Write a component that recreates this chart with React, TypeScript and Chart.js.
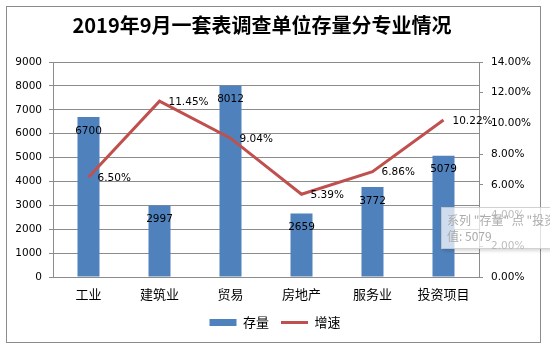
import React, { useEffect, useRef } from "react";
import { Chart, registerables } from "chart.js";

Chart.register(...registerables);

const titleText = "2019年9月一套表调查单位存量分专业情况";
const categories = ["工业", "建筑业", "贸易", "房地产", "服务业", "投资项目"];
const stockValues = [6700, 2997, 8012, 2659, 3772, 5079];
const growthValues = [6.5, 11.45, 9.04, 5.39, 6.86, 10.22];
const seriesNames = ["存量", "增速"];
const tooltipLines = ['系列 "存量" 点 "投资项目"', "值: 5079"];

const NUM_FONT = "'DejaVu Sans', sans-serif";
const CJK_FONT = "'Noto Sans CJK SC', sans-serif";

const overlayPlugin = {
  id: "overlayText",
  afterDraw(chart: any) {
    const ctx = chart.ctx;
    ctx.save();
    ctx.fillStyle = "#000";
    ctx.font = `bold 20px ${CJK_FONT}`;
    ctx.textAlign = "center";
    ctx.textBaseline = "middle";
    ctx.fillText(titleText, 262, 25);
    ctx.font = `10.5px ${NUM_FONT}`;
    const barMeta = chart.getDatasetMeta(0);
    barMeta.data.forEach((el: any, i: number) => {
      ctx.textAlign = "center";
      ctx.fillText(String(stockValues[i]), el.x, el.y + 14);
    });
    const lineMeta = chart.getDatasetMeta(1);
    lineMeta.data.forEach((el: any, i: number) => {
      ctx.textAlign = "left";
      ctx.fillText(growthValues[i].toFixed(2) + "%", el.x + 9, el.y + 1);
    });
    ctx.restore();
  },
};

export default function App() {
  const ref = useRef<HTMLCanvasElement>(null);
  useEffect(() => {
    if (!ref.current) return;
    const chart = new Chart(ref.current, {
      type: "bar",
      data: {
        labels: categories,
        datasets: [
          {
            type: "bar",
            label: seriesNames[0],
            data: stockValues,
            backgroundColor: "#4F81BD",
            borderWidth: 0,
            barPercentage: 0.31,
            categoryPercentage: 1,
            yAxisID: "y",
            pointStyle: "rect",
            order: 2,
          } as any,
          {
            type: "line",
            label: seriesNames[1],
            data: growthValues,
            borderColor: "#C0504D",
            backgroundColor: "#C0504D",
            borderWidth: 3,
            pointRadius: 0,
            pointStyle: "line",
            yAxisID: "y1",
            order: 1,
          } as any,
        ],
      },
      options: {
        animation: false,
        responsive: false,
        layout: { padding: { top: 62, left: 0, right: 0, bottom: 15 } },
        plugins: {
          tooltip: { enabled: false },
          title: { display: false },
          legend: {
            display: true,
            position: "bottom",
            labels: {
              usePointStyle: true,
              pointStyleWidth: 27,
              boxHeight: 7,
              padding: 12,
              color: "#000",
              font: { family: CJK_FONT, size: 13 },
              sort: (a: any, b: any) => a.datasetIndex - b.datasetIndex,
            },
          },
        },
        scales: {
          x: {
            grid: { display: false, drawTicks: false },
            border: { display: true, color: "#8c8c8c" },
            ticks: { color: "#000", padding: 9, font: { family: CJK_FONT, size: 13 } },
            afterFit: (s: any) => { s.height = 27; },
          },
          y: {
            position: "left",
            min: 0,
            max: 9000,
            ticks: {
              stepSize: 1000,
              color: "#000",
              padding: 7,
              font: { family: NUM_FONT, size: 10.5 },
              callback: (v: any) => String(v),
            },
            grid: { color: "#8c8c8c", tickLength: 4 },
            border: { display: true, color: "#8c8c8c" },
            afterFit: (s: any) => { s.width = 53; },
          },
          y1: {
            position: "right",
            min: 0,
            max: 14,
            ticks: {
              stepSize: 2,
              color: "#000",
              padding: 8,
              font: { family: NUM_FONT, size: 10.5 },
              callback: (v: any) => Number(v).toFixed(2) + "%",
            },
            grid: { drawOnChartArea: false, color: "#8c8c8c", tickLength: 4 },
            border: { display: true, color: "#8c8c8c" },
            afterFit: (s: any) => { s.width = 71; },
          },
        },
      } as any,
      plugins: [overlayPlugin],
    });
    return () => chart.destroy();
  }, []);

  return (
    <div style={{ position: "fixed", left: 0, top: 0, width: 550, height: 354, overflow: "hidden", background: "#fff" }}>
      <canvas ref={ref} width={550} height={354} style={{ position: "absolute", left: 0, top: 0 }} />
      <div style={{ position: "absolute", left: 6, top: 6, width: 533, height: 335, border: "1px solid #8c8c8c", pointerEvents: "none" }} />
      <div
        style={{
          position: "absolute",
          left: 441,
          top: 207,
          width: 130,
          height: 42,
          boxSizing: "border-box",
          background: "rgba(255,255,255,0.72)",
          border: "1px solid rgba(180,180,180,0.6)",
          boxShadow: "2px 2px 3px rgba(0,0,0,0.15)",
          color: "#aaaaaa",
          font: `12px ${CJK_FONT}`,
          lineHeight: "16px",
          padding: "4px 5px",
          whiteSpace: "nowrap",
        }}
      >
        <div>{tooltipLines[0]}</div>
        <div>{tooltipLines[1]}</div>
      </div>
    </div>
  );
}
